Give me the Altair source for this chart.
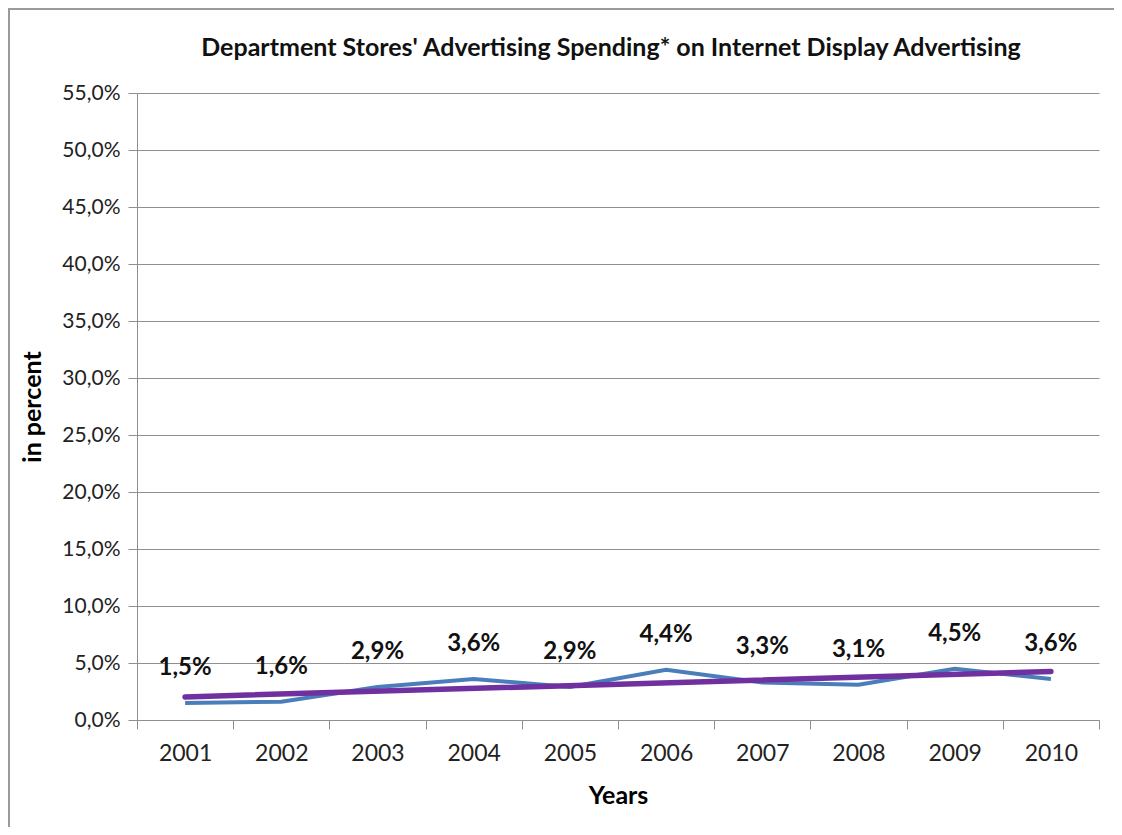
import altair as alt
import pandas as pd

years = [2001, 2002, 2003, 2004, 2005, 2006, 2007, 2008, 2009, 2010]
values = [1.5, 1.6, 2.9, 3.6, 2.9, 4.4, 3.3, 3.1, 4.5, 3.6]
y_ticks = [0, 5, 10, 15, 20, 25, 30, 35, 40, 45, 50, 55]

FONT = "Lato"
W, H = 962, 627
PAD = {"left": 129, "top": 85, "right": 15, "bottom": 107}

df = pd.DataFrame({"year": years, "value": values})

x_enc = alt.X(
    "year:O",
    scale=alt.Scale(domain=years, paddingInner=0, paddingOuter=0),
    axis=alt.Axis(
        title="Years", tickBand="extent", labelAngle=0, labelFontSize=23,
        labelPadding=13, tickSize=9, tickColor="#8f8f8f", domainColor="#8f8f8f",
        titleFontSize=25, titleFontWeight="bold", titleY=75, titleBaseline="middle",
        grid=False, labelColor="#222",
    ),
)
y_enc = alt.Y(
    "value:Q",
    scale=alt.Scale(domain=[0, 55], nice=False, zero=True),
    axis=alt.Axis(
        title="in percent", values=y_ticks,
        labelExpr="replace(format(datum.value, '.1f'), '.', ',') + '%'",
        labelFontSize=21, labelPadding=8, tickSize=9, tickColor="#8f8f8f",
        domainColor="#8f8f8f", gridColor="#8f8f8f", grid=True,
        titleFontSize=25, titleFontWeight="bold", titleX=-105, titleY=H / 2,
        titleAngle=-90, titleBaseline="middle", titleAlign="center",
        labelColor="#222",
    ),
)

base = alt.Chart(df)

line = base.mark_line(color="#4a7ebb", strokeWidth=4).encode(x=x_enc, y=y_enc)

trend = base.transform_regression("year", "value").mark_line(
    color="#7030a0", strokeWidth=5.5, strokeCap="round"
).encode(x=alt.X("year:O"), y=alt.Y("value:Q"))

labels = base.transform_calculate(
    lab="replace(format(datum.value, '.1f'), '.', ',') + '%'"
).mark_text(
    dy=-35, fontSize=24, fontWeight="bold", color="#111", font=FONT
).encode(x=alt.X("year:O"), y=alt.Y("value:Q"), text="lab:N")

frame_df = pd.DataFrame({"k": [0]})
top_rule = alt.Chart(frame_df).mark_rule(color="#9a9a9a", strokeWidth=2).encode(
    x=alt.value(-PAD["left"]), x2=alt.value(W + PAD["right"]), y=alt.value(-84)
)
left_rule = alt.Chart(frame_df).mark_rule(color="#9a9a9a", strokeWidth=2).encode(
    x=alt.value(-PAD["left"] + 1), y=alt.value(-85), y2=alt.value(H + PAD["bottom"])
)

chart = alt.layer(line, trend, labels, top_rule, left_rule).properties(
    width=W, height=H,
    title=alt.TitleParams(
        "Department Stores' Advertising Spending* on Internet Display Advertising",
        fontSize=25, fontWeight="bold", offset=0, dy=54, dx=-7, anchor="middle",
        frame="group", font=FONT, color="#111",
    ),
    autosize=alt.AutoSizeParams(type="none"),
    padding=PAD,
).configure(font=FONT).configure_view(stroke=None).configure_axis(
    labelFont=FONT, titleFont=FONT
)

chart.save("out.html", embed_options={"renderer": "svg", "actions": False})
